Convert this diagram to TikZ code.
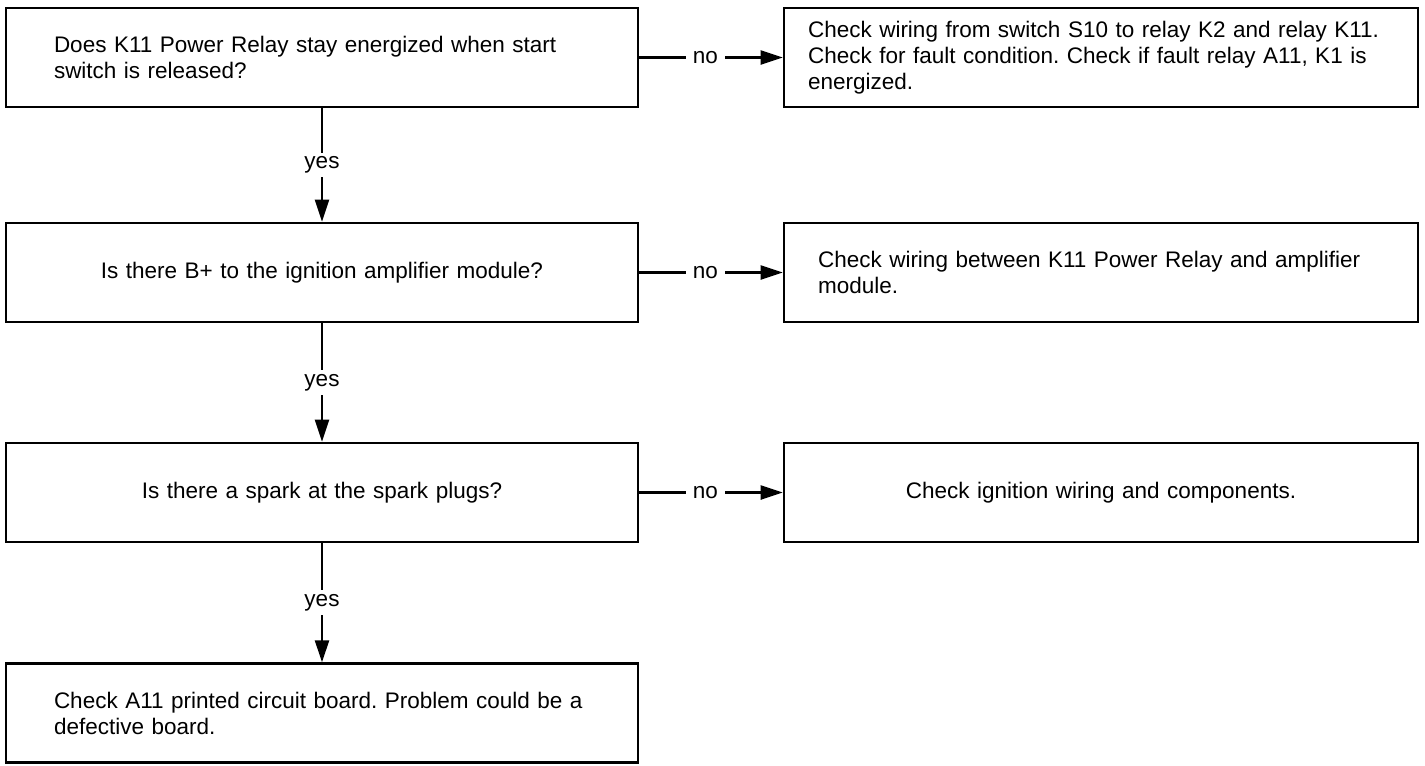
\documentclass[tikz,border=0pt]{standalone}
\usepackage{fontspec}
\setmainfont{Liberation Sans}
\usetikzlibrary{arrows.meta,positioning}
\frenchspacing

\begin{document}
\begin{tikzpicture}[x=1pt,y=1pt,
    box/.style={draw,line width=2.6pt,minimum height=99pt,inner xsep=48pt,text width=536pt,align=left,font=\fontsize{22.5}{26}\selectfont},
    rbox/.style={box,inner xsep=34pt,text width=566pt},
    arr/.style={-{Triangle[length=22pt,width=14pt]},line width=2.4pt},
    lbl/.style={fill=white,inner xsep=7pt,inner ysep=4pt,font=\fontsize{22.5}{26}\selectfont}]
  \useasboundingbox (0,0) rectangle (1425,-766);
  \node[box] (q1) at (322,-57.5) {Does K11 Power Relay stay energized when start\\switch is released?};
  \node[box,align=center,below=113.4pt of q1] (q2) {Is there B+ to the ignition amplifier module?};
  \node[box,align=center,below=118.4pt of q2] (q3) {Is there a spark at the spark plugs?};
  \node[box,below=119pt of q3] (q4) {Check A11 printed circuit board. Problem could be a\\defective board.};
  \node[rbox,inner xsep=24pt,text width=586pt,right=143.4pt of q1] (r1) {Check wiring from switch S10 to relay K2 and relay K11.\\Check for fault condition. Check if fault relay A11, K1 is\\energized.};
  \node[rbox,right=143.4pt of q2] (r2) {Check wiring between K11 Power Relay and amplifier\\module.};
  \node[rbox,align=center,right=143.4pt of q3] (r3) {Check ignition wiring and components.};
  \draw[arr] (q1) -- (q2) node[lbl,midway] {yes};
  \draw[arr] (q2) -- (q3) node[lbl,midway] {yes};
  \draw[arr] (q3) -- (q4) node[lbl,midway] {yes};
  \draw[arr] (q1) -- (r1) node[lbl,pos=0.46] {no};
  \draw[arr] (q2) -- (r2) node[lbl,pos=0.46] {no};
  \draw[arr] (q3) -- (r3) node[lbl,pos=0.46] {no};
\end{tikzpicture}
\end{document}
